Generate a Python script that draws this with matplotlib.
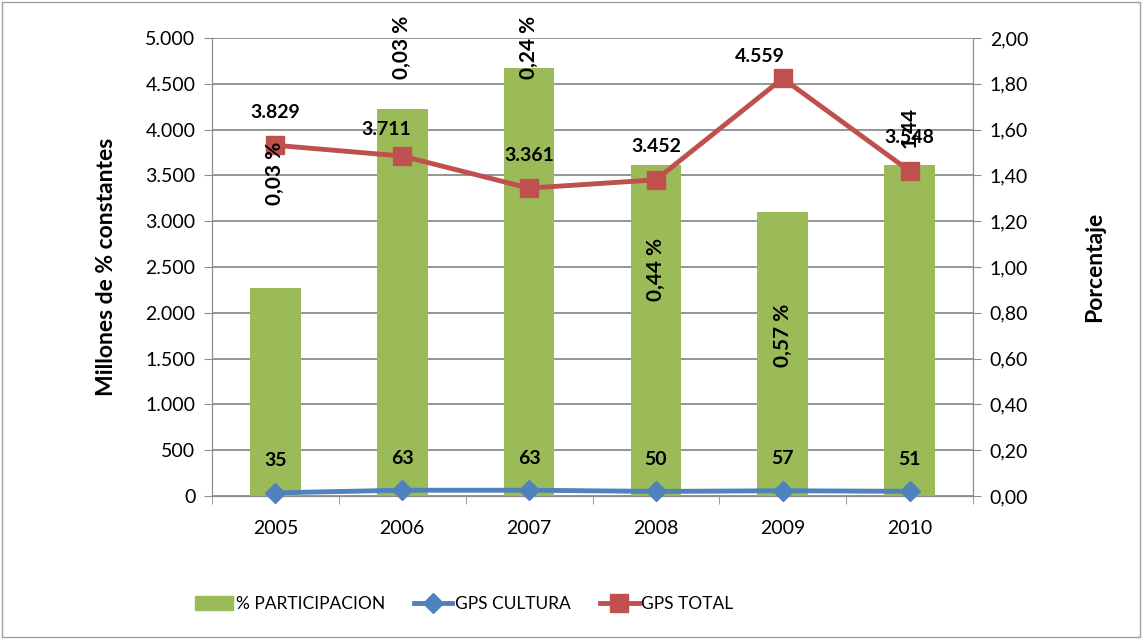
import matplotlib.pyplot as plt
from matplotlib.patches import Rectangle
from matplotlib.ticker import FuncFormatter, MultipleLocator
import numpy as np

plt.rcParams['font.family'] = ['Lato', 'DejaVu Sans']

# datos
years = ['2005', '2006', '2007', '2008', '2009', '2010']
participacion = [0.91, 1.69, 1.87, 1.445, 1.24, 1.445]
gps_cultura = [35, 63, 63, 50, 57, 51]
gps_total = [3829, 3711, 3361, 3452, 4559, 3548]
bar_labels = ['0,03 %', '0,03 %', '0,24 %', '0,44 %', '0,57 %', '1,44']

green = '#9BBB59'
blue = '#4F81BD'
red = '#C0504D'

fig = plt.figure(figsize=(11.42, 6.39), dpi=100)
ax = fig.add_axes([212 / 1142, 1 - 496 / 639, 761 / 1142, 458 / 639])
ax2 = ax.twinx()

x = np.arange(len(years))

# barras en eje derecho
ax2.bar(x, participacion, width=0.4, color=green, zorder=1)
ax2.set_ylim(0, 2.0)
ax2.yaxis.set_major_locator(MultipleLocator(0.2))
ax2.yaxis.set_major_formatter(FuncFormatter(lambda v, p: f'{v:.2f}'.replace('.', ',')))

# posiciones (eje derecho) de las etiquetas de barras, tal como aparecen
label_y = [1.41, 1.96, 1.96, 0.99, 0.70, 1.61]
for i, t in enumerate(bar_labels):
    ax2.text(x[i], label_y[i], t, rotation=90, ha='center', va='center',
             fontsize=15, fontweight='bold', zorder=6)

# lineas en eje izquierdo (dibujadas sobre ax2 para quedar encima)
def to_right(v):
    return np.array(v) / 5000 * 2.0

ax2.plot(x, to_right(gps_cultura), color=blue, lw=3.5, marker='D', ms=10,
         label='GPS CULTURA', zorder=4, clip_on=False)
ax2.plot(x, to_right(gps_total), color=red, lw=3.5, marker='s', ms=13.5,
         label='GPS TOTAL', zorder=5, clip_on=False)

# desplazamientos de etiquetas (px)
total_dx = [0, -16, 0, 0, -23, 0]
total_dy = [33, 27, 33, 33, 22, 34]
for i, v in enumerate(gps_total):
    ax2.annotate(f'{v:,}'.replace(',', '.'), (x[i], to_right(v)),
                 xytext=(total_dx[i] * 0.72, total_dy[i] * 0.72),
                 textcoords='offset points', ha='center', va='center',
                 fontsize=14, fontweight='bold', zorder=6)
for i, v in enumerate(gps_cultura):
    ax2.annotate(str(v), (x[i], to_right(v)), xytext=(0, 23),
                 textcoords='offset points', ha='center', va='center',
                 fontsize=14, fontweight='bold', zorder=6)

# eje izquierdo
ax.set_ylim(0, 5000)
ax.yaxis.set_major_locator(MultipleLocator(500))
ax.yaxis.set_major_formatter(FuncFormatter(lambda v, p: f'{int(v):,}'.replace(',', '.')))
ax.grid(axis='y', color='#8c8c8c', lw=1.3)
ax.set_axisbelow(True)
ax.set_xlim(-0.5, 5.5)
ax.set_xticks(x)
ax.set_xticklabels(years)
ax.set_xticks(np.arange(-0.5, 6.0, 1.0), minor=True)
ax.tick_params(axis='x', which='major', length=0, pad=17, labelsize=14)
ax.tick_params(axis='x', which='minor', length=6, color='#8c8c8c', direction='out')
ax.tick_params(axis='y', length=6, color='#8c8c8c', labelsize=14, pad=6)
ax2.tick_params(axis='y', length=6, color='#8c8c8c', labelsize=14, pad=6)

for a in (ax, ax2):
    for s in a.spines.values():
        s.set_color('#8c8c8c')
    a.spines['top'].set_visible(False)

ax.set_ylabel('Millones de % constantes', fontsize=16.5, fontweight='bold', labelpad=20)
ax2.set_ylabel('Porcentaje', fontsize=16.5, fontweight='bold', rotation=90, labelpad=40)

# leyenda
handles = [Rectangle((0, 0), 1, 1, color=green)]
h2, l2 = ax2.get_legend_handles_labels()
leg = fig.legend(handles + h2, ['% PARTICIPACION'] + l2, loc='center',
                 bbox_to_anchor=(464 / 1142, 1 - 604 / 639), ncol=3, frameon=False,
                 fontsize=12.5, handlelength=2.2, handleheight=0.9,
                 columnspacing=1.7, handletextpad=0.15)

# borde exterior
fig.patches.append(Rectangle((0.002, 0.003), 0.996, 0.994, transform=fig.transFigure,
                             fill=False, ec='#a0a0a0', lw=1))

fig.savefig('out.png', dpi=100)
